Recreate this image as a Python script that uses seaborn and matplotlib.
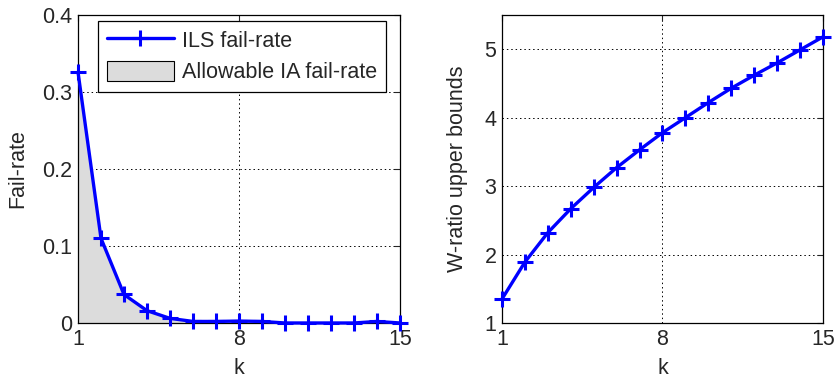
import numpy as np
import pandas as pd
import matplotlib
matplotlib.use('Agg')
import matplotlib.pyplot as plt
import seaborn as sns
from matplotlib.patches import Patch
from matplotlib.lines import Line2D

# data
k = list(range(1, 16))
ils_fail_rate = [0.326, 0.110, 0.037, 0.016, 0.006, 0.002, 0.002, 0.0025,
                 0.002, 0.0, 0.0, 0.0, 0.0, 0.002, 0.0]
w_ratio_upper = [1.35, 1.89, 2.32, 2.67, 2.98, 3.27, 3.53, 3.78,
                 4.00, 4.22, 4.43, 4.62, 4.80, 4.99, 5.18]
x_ticks = [1, 8, 15]

df = pd.DataFrame({'k': k, 'ils': ils_fail_rate, 'wratio': w_ratio_upper})

sns.set_style('white')
plt.rcParams['font.family'] = ['Liberation Sans', 'DejaVu Sans']
plt.rcParams['font.size'] = 15.5

fig = plt.figure(figsize=(8.35, 3.82), dpi=100)
ax1 = fig.add_axes([0.0934, 0.1545, 0.3856, 0.8063])
ax2 = fig.add_axes([0.6012, 0.1545, 0.3844, 0.8063])

blue = '#0000ff'
line_kw = dict(color=blue, linewidth=2.4, marker='+', markersize=11,
               markeredgewidth=2.2, markeredgecolor=blue)

# left panel: fail-rate
ax1.fill_between(df['k'], 0, df['ils'], color='#dcdcdc', linewidth=0, zorder=1)
sns.lineplot(data=df, x='k', y='ils', ax=ax1, zorder=3, **line_kw)
ax1.set_xlim(1, 15)
ax1.set_ylim(0, 0.4)
ax1.set_yticks([0, 0.1, 0.2, 0.3, 0.4])
ax1.set_yticklabels(['0', '0.1', '0.2', '0.3', '0.4'])
ax1.set_ylabel('Fail-rate', labelpad=10)

handles = [Line2D([], [], **line_kw),
           Patch(facecolor='#dcdcdc', edgecolor='black', linewidth=0.8)]
leg = ax1.legend(handles, ['ILS fail-rate', 'Allowable IA fail-rate'],
                 loc='upper right', bbox_to_anchor=(0.97, 0.995), fancybox=False,
                 edgecolor='black', framealpha=1, handlelength=3.1,
                 handleheight=1.1, borderpad=0.4, labelspacing=0.4,
                 handletextpad=0.4, borderaxespad=0.2)
leg.get_frame().set_linewidth(0.9)

# right panel: W-ratio upper bounds
sns.lineplot(data=df, x='k', y='wratio', ax=ax2, zorder=3, **line_kw)
ax2.set_xlim(1, 15)
ax2.set_ylim(1, 5.5)
ax2.set_yticks([1, 2, 3, 4, 5])
ax2.set_ylabel('W-ratio upper bounds', labelpad=12)

for ax in (ax1, ax2):
    ax.set_xticks(x_ticks)
    ax.set_xlabel('k', labelpad=6)
    ax.grid(True, color='black', linestyle=(0, (1.5, 3)), linewidth=0.7)
    ax.tick_params(direction='in', length=4, top=True, right=True,
                   labelsize=15.5, pad=4)
    for sp in ax.spines.values():
        sp.set_visible(True)
        sp.set_color('black')
        sp.set_linewidth(0.9)
    for line in ax.lines:
        line.set_clip_on(False)

fig.savefig('out.png', dpi=100)
